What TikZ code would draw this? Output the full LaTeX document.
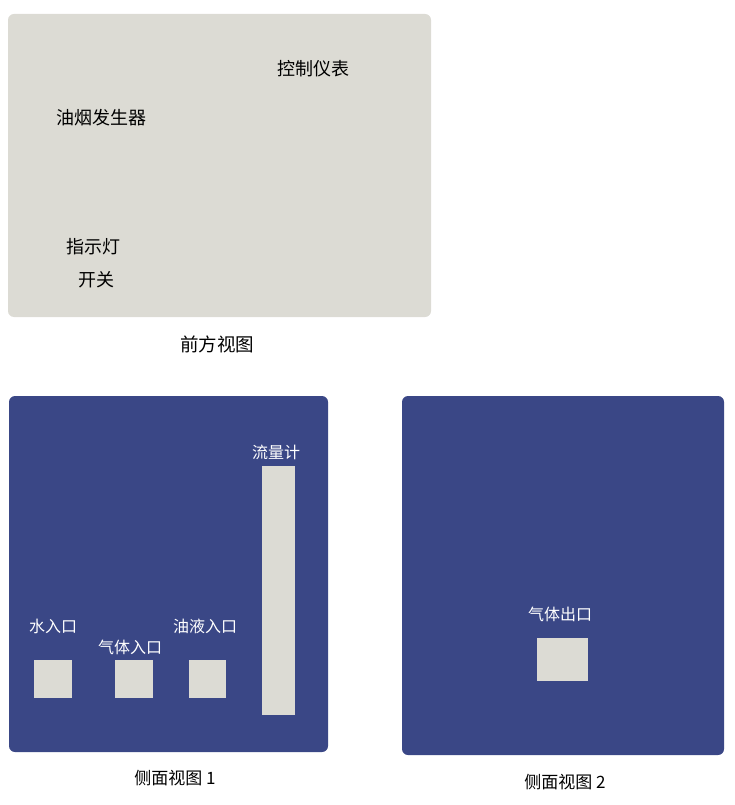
\documentclass[tikz,border=0pt]{standalone}
\usepackage{fontspec}
\newfontfamily\cjk{Noto Sans CJK SC}
\definecolor{panelgray}{HTML}{DCDBD4}
\definecolor{panelblue}{HTML}{3A4786}
\begin{document}
\begin{tikzpicture}[x=1pt,y=-1pt,
  darklabel/.style={font=\cjk\fontsize{18}{20}\selectfont, text=black, inner sep=0pt},
  lightlabel/.style={font=\cjk\fontsize{16}{18}\selectfont, text=white, inner sep=0pt},
  caption/.style={font=\cjk\fontsize{17}{20}\selectfont, text=black, inner sep=0pt},
  part/.style={fill=panelgray, draw=none}]
\useasboundingbox (0,0) rectangle (734,805);
% front view
\fill[panelgray, rounded corners=6pt] (8,14) rectangle (431,317);
\node[darklabel] (ctrl) at (313,69) {控制仪表};
\node[darklabel] (gen) at (101,118) {油烟发生器};
\node[darklabel] (lamp) at (93,247) {指示灯};
\node[darklabel] (sw) at (96,280) {开关};
\node[caption, font=\cjk\fontsize{18.5}{20}\selectfont] (cap1) at (217,344) {前方视图};
% side view 1
\fill[panelblue, rounded corners=6pt] (9,396) rectangle (328,752);
\fill[part] (34,660) rectangle (72,698);
\fill[part] (115,660) rectangle (153,698);
\fill[part] (189,660) rectangle (226,698);
\fill[part] (262,466) rectangle (295,715);
\node[lightlabel] (water) at (53,626) {水入口};
\node[lightlabel] (gasin) at (130,647) {气体入口};
\node[lightlabel] (oil) at (205,626) {油液入口};
\node[lightlabel] (flow) at (276,452) {流量计};
\node[caption] (cap2) at (175,778) {侧面视图 1};
% side view 2
\fill[panelblue, rounded corners=6pt] (402,396) rectangle (724,755);
\fill[part] (537,638) rectangle (588,681);
\node[lightlabel] (gasout) at (560,614) {气体出口};
\node[caption] (cap3) at (565,782) {侧面视图 2};
\end{tikzpicture}
\end{document}
